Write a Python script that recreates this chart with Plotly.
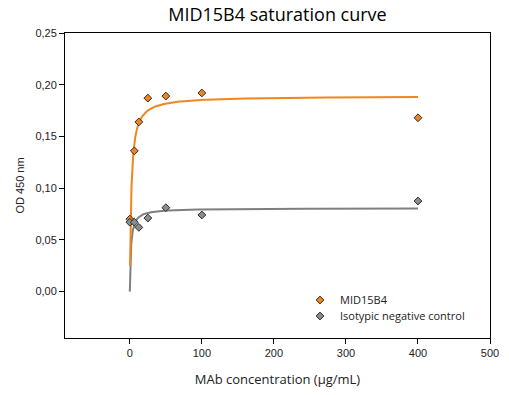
import numpy as np
import plotly.graph_objects as go

# Measured data
conc = [0, 6.25, 12.5, 25, 50, 100, 400]
mid15b4 = [0.070, 0.136, 0.164, 0.187, 0.189, 0.192, 0.168]
isotypic = [0.067, 0.067, 0.062, 0.071, 0.081, 0.074, 0.0875]

# One-site saturation fit parameters (y = Bmax*x/(Kd+x))
mid_bmax, mid_kd, mid_start = 0.189, 2.0, 0.3
iso_bmax, iso_kd, iso_start = 0.0806, 1.5, 0.0
fit_end = 400

x_ticks = [0, 100, 200, 300, 400, 500]
y_ticks = [0.00, 0.05, 0.10, 0.15, 0.20, 0.25]

orange_line = "#F0861C"
orange_fill = "#EE8422"
gray_line = "#7F7F7F"
gray_fill = "#8C8C8C"


def fit_curve(bmax, kd, start, end):
    xs = np.concatenate([np.linspace(start, 10, 200), np.linspace(10, end, 200)])
    return xs, bmax * xs / (kd + xs)


fig = go.Figure()

mx, my = fit_curve(mid_bmax, mid_kd, mid_start, fit_end)
gx, gy = fit_curve(iso_bmax, iso_kd, iso_start, fit_end)

fig.add_trace(go.Scatter(x=gx, y=gy, mode="lines", line=dict(color=gray_line, width=2),
                         showlegend=False, hoverinfo="skip"))
fig.add_trace(go.Scatter(x=mx, y=my, mode="lines", line=dict(color=orange_line, width=2),
                         showlegend=False, hoverinfo="skip"))

fig.add_trace(go.Scatter(x=conc, y=mid15b4, mode="markers", name="MID15B4", legend="legend",
                         marker=dict(symbol="diamond", size=6, color=orange_fill,
                                     line=dict(color="#3a2a1a", width=1))))
fig.add_trace(go.Scatter(x=conc, y=isotypic, mode="markers", name="Isotypic negative control",
                         legend="legend2",
                         marker=dict(symbol="diamond", size=6, color=gray_fill,
                                     line=dict(color="#2a2a2a", width=1))))

axis_common = dict(showline=True, linecolor="black", linewidth=1, mirror=True,
                   ticks="outside", ticklen=5, tickcolor="black", showgrid=False,
                   zeroline=False, automargin=False,
                   tickfont=dict(family="Liberation Sans, Arial", size=11, color="#222"))

legend_font = dict(family="Open Sans, Liberation Sans", size=11, color="#222")

fig.update_layout(
    width=509, height=395,
    margin=dict(l=65, r=19, t=33, b=57),
    paper_bgcolor="white", plot_bgcolor="white",
    separators=", ",
    title=dict(text="MID15B4 saturation curve", x=(65 + 490) / 2 / 509, xanchor="center",
               y=1 - 15 / 395, yanchor="middle",
               font=dict(family="Open Sans, Liberation Sans", size=18, color="black")),
    xaxis=dict(range=[-90, 500], tickvals=x_ticks,
               title=dict(text="MAb concentration (µg/mL)", standoff=16,
                          font=dict(family="Open Sans, Liberation Sans", size=13, color="#222")),
               **axis_common),
    yaxis=dict(range=[-0.045, 0.25], tickvals=y_ticks, tickformat=".2f",
               title=dict(text="OD 450 nm", standoff=8,
                          font=dict(family="Liberation Sans, Arial", size=11, color="#222")),
               **axis_common),
    legend=dict(x=(300 - 65) / 425, y=(338 - 300) / 305, xanchor="left", yanchor="middle",
                bgcolor="rgba(0,0,0,0)", font=legend_font),
    legend2=dict(x=(300 - 65) / 425, y=(338 - 316) / 305, xanchor="left", yanchor="middle",
                 bgcolor="rgba(0,0,0,0)", font=legend_font),
)

fig.write_html("out.html", config={"displayModeBar": False},
               post_script="document.body.style.margin='0';document.body.style.overflow='hidden';")
